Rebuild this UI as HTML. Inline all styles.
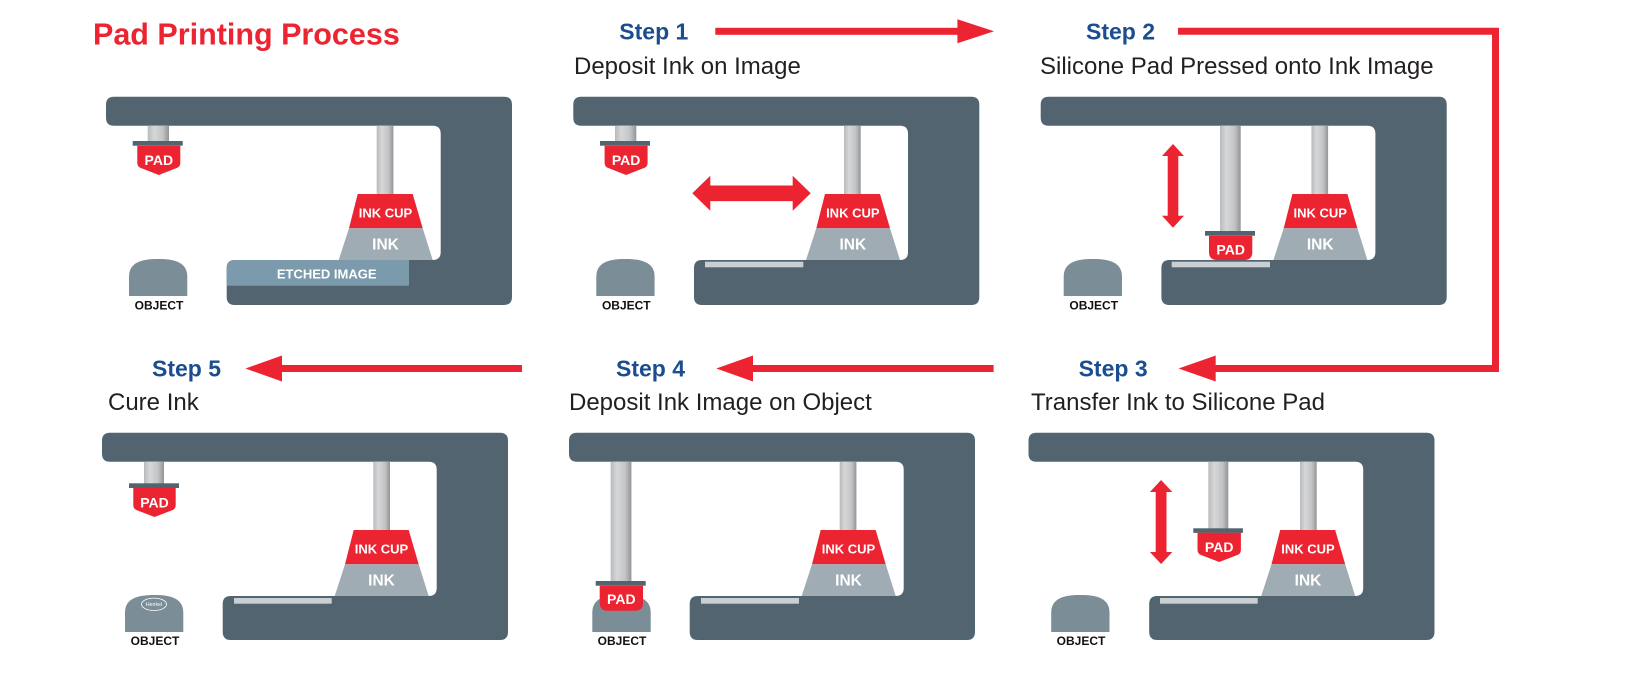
<!DOCTYPE html>
<html>
<head>
<meta charset="utf-8">
<style>
  html,body{margin:0;padding:0;background:#ffffff;}
  svg{display:block;}
  text{font-family:"Liberation Sans", Arial, sans-serif;}
</style>
</head>
<body>
<svg width="1628" height="676" viewBox="0 0 1628 676" xmlns="http://www.w3.org/2000/svg">
  <defs>
    <linearGradient id="stem" x1="0" y1="0" x2="1" y2="0">
      <stop offset="0" stop-color="#b9babc"/>
      <stop offset="0.3" stop-color="#d6d7d9"/>
      <stop offset="0.7" stop-color="#c3c4c6"/>
      <stop offset="1" stop-color="#939497"/>
    </linearGradient>
  </defs>

  <!-- Title -->
  <text x="93" y="44.3" font-size="30.5" font-weight="bold" fill="#ec2330">Pad Printing Process</text>

  <!-- Step headings row 1 -->
  <text x="619.3" y="39.3" font-size="23" font-weight="bold" fill="#1b4d8f">Step 1</text>
  <text x="574" y="74" font-size="24" fill="#231f20">Deposit Ink on Image</text>
  <text x="1086" y="39.3" font-size="23" font-weight="bold" fill="#1b4d8f">Step 2</text>
  <text x="1040" y="74" font-size="24" fill="#231f20">Silicone Pad Pressed onto Ink Image</text>

  <!-- Step headings row 2 -->
  <text x="152" y="376.5" font-size="23" font-weight="bold" fill="#1b4d8f">Step 5</text>
  <text x="108" y="410" font-size="24" fill="#231f20">Cure Ink</text>
  <text x="616" y="376.5" font-size="23" font-weight="bold" fill="#1b4d8f">Step 4</text>
  <text x="569" y="410" font-size="24" fill="#231f20">Deposit Ink Image on Object</text>
  <text x="1078.6" y="376.5" font-size="23" font-weight="bold" fill="#1b4d8f">Step 3</text>
  <text x="1031" y="410" font-size="24" fill="#231f20">Transfer Ink to Silicone Pad</text>

  <!-- Arrows between steps -->
  <rect x="715.3" y="27.8" width="243" height="7" fill="#ec2330"/>
  <polygon points="957.4,19.3 994,31.3 957.4,43.3" fill="#ec2330"/>

  <path d="M1178,31.3 H1495.5 V368.5 H1214" fill="none" stroke="#ec2330" stroke-width="7" stroke-linejoin="miter"/>
  <polygon points="1215.7,355.5 1178.6,368.5 1215.7,381.5" fill="#ec2330"/>

  <rect x="752" y="365" width="241.6" height="7" fill="#ec2330"/>
  <polygon points="753,355.5 716.3,368.5 753,381.5" fill="#ec2330"/>

  <rect x="281" y="365" width="241" height="7" fill="#ec2330"/>
  <polygon points="282,355.5 245.4,368.5 282,381.5" fill="#ec2330"/>

  <!-- ============ PANEL 1 (intro) ============ -->
  <g transform="translate(106,96.7)">
    <path d="M8,0 H398 Q406,0 406,8 V200.3 Q406,208.3 398,208.3 H128.7 Q120.7,208.3 120.7,200.3 V171.3 Q120.7,163.3 128.7,163.3 H326.7 Q334.7,163.3 334.7,155.3 V37 Q334.7,29 326.7,29 H8 Q0,29 0,21 V8 Q0,0 8,0 Z" fill="#52646f"/>
    <path d="M120.7,189 V171.3 Q120.7,163.3 128.7,163.3 H303 V189 Z" fill="#7b9aab"/>
    <text x="220.7" y="181.6" font-size="13" font-weight="bold" fill="#ffffff" text-anchor="middle">ETCHED IMAGE</text>
    <!-- cup -->
    <rect x="270.7" y="29" width="16.7" height="68.5" fill="url(#stem)"/>
    <polygon points="251.7,97.3 306.7,97.3 316.7,131.6 243,131.6" fill="#ec2330"/>
    <polygon points="243,131.6 316.7,131.6 326.7,163.3 232.7,163.3" fill="#a0acb4"/>
    <text x="279.5" y="120.6" font-size="13" font-weight="bold" fill="#ffffff" text-anchor="middle">INK CUP</text>
    <text x="279.5" y="152.6" font-size="15.5" font-weight="bold" fill="#ffffff" text-anchor="middle">INK</text>
    <!-- pad -->
    <rect x="41.7" y="29" width="21.3" height="15.5" fill="url(#stem)"/>
    <rect x="26.7" y="44.3" width="50" height="4.7" fill="#52646f"/>
    <path d="M31.3,49 H74.3 V66 Q74.3,69.6 71.3,71 L52.8,78.3 L34.3,71 Q31.3,69.6 31.3,66 Z" fill="#ec2330"/>
    <text x="52.8" y="68.3" font-size="14" font-weight="bold" fill="#ffffff" text-anchor="middle">PAD</text>
    <!-- object -->
    <path d="M23,199.3 V180 C23,166 35,162.3 52.2,162.3 C69.3,162.3 81.3,166 81.3,180 V199.3 Z" fill="#7b8d96"/>
    <text x="53" y="212.8" font-size="12" font-weight="bold" fill="#111111" text-anchor="middle">OBJECT</text>
  </g>

  <!-- ============ PANEL 2 (Step 1) ============ -->
  <g transform="translate(573.3,96.7)">
    <path d="M8,0 H398 Q406,0 406,8 V200.3 Q406,208.3 398,208.3 H128.7 Q120.7,208.3 120.7,200.3 V171.3 Q120.7,163.3 128.7,163.3 H326.7 Q334.7,163.3 334.7,155.3 V37 Q334.7,29 326.7,29 H8 Q0,29 0,21 V8 Q0,0 8,0 Z" fill="#52646f"/>
    <rect x="131.7" y="165" width="98.3" height="5.6" fill="#c9cfd2"/>
    <rect x="270.7" y="29" width="16.7" height="68.5" fill="url(#stem)"/>
    <polygon points="251.7,97.3 306.7,97.3 316.7,131.6 243,131.6" fill="#ec2330"/>
    <polygon points="243,131.6 316.7,131.6 326.7,163.3 232.7,163.3" fill="#a0acb4"/>
    <text x="279.5" y="120.6" font-size="13" font-weight="bold" fill="#ffffff" text-anchor="middle">INK CUP</text>
    <text x="279.5" y="152.6" font-size="15.5" font-weight="bold" fill="#ffffff" text-anchor="middle">INK</text>
    <rect x="41.7" y="29" width="21.3" height="15.5" fill="url(#stem)"/>
    <rect x="26.7" y="44.3" width="50" height="4.7" fill="#52646f"/>
    <path d="M31.3,49 H74.3 V66 Q74.3,69.6 71.3,71 L52.8,78.3 L34.3,71 Q31.3,69.6 31.3,66 Z" fill="#ec2330"/>
    <text x="52.8" y="68.3" font-size="14" font-weight="bold" fill="#ffffff" text-anchor="middle">PAD</text>
    <!-- horizontal double arrow -->
    <polygon points="119,96.6 137,79.1 137,88.8 219.4,88.8 219.4,79.1 237.4,96.6 219.4,114.1 219.4,104.4 137,104.4 137,114.1" fill="#ec2330"/>
    <path d="M23,199.3 V180 C23,166 35,162.3 52.2,162.3 C69.3,162.3 81.3,166 81.3,180 V199.3 Z" fill="#7b8d96"/>
    <text x="53" y="212.8" font-size="12" font-weight="bold" fill="#111111" text-anchor="middle">OBJECT</text>
  </g>

  <!-- ============ PANEL 3 (Step 2) ============ -->
  <g transform="translate(1040.7,96.7)">
    <path d="M8,0 H398 Q406,0 406,8 V200.3 Q406,208.3 398,208.3 H128.7 Q120.7,208.3 120.7,200.3 V171.3 Q120.7,163.3 128.7,163.3 H326.7 Q334.7,163.3 334.7,155.3 V37 Q334.7,29 326.7,29 H8 Q0,29 0,21 V8 Q0,0 8,0 Z" fill="#52646f"/>
    <rect x="131" y="165" width="98.3" height="5.6" fill="#c9cfd2"/>
    <rect x="270.7" y="29" width="16.7" height="68.5" fill="url(#stem)"/>
    <polygon points="251.7,97.3 306.7,97.3 316.7,131.6 243,131.6" fill="#ec2330"/>
    <polygon points="243,131.6 316.7,131.6 326.7,163.3 232.7,163.3" fill="#a0acb4"/>
    <text x="279.5" y="120.6" font-size="13" font-weight="bold" fill="#ffffff" text-anchor="middle">INK CUP</text>
    <text x="279.5" y="152.6" font-size="15.5" font-weight="bold" fill="#ffffff" text-anchor="middle">INK</text>
    <!-- pressed pad -->
    <rect x="179.3" y="29" width="20.7" height="105.5" fill="url(#stem)"/>
    <rect x="164.3" y="134.3" width="50" height="4.7" fill="#52646f"/>
    <path d="M168.3,139 H211.6 V155.3 Q211.6,163.3 203.6,163.3 H176.3 Q168.3,163.3 168.3,155.3 Z" fill="#ec2330"/>
    <text x="190" y="157.6" font-size="14" font-weight="bold" fill="#ffffff" text-anchor="middle">PAD</text>
    <!-- vertical double arrow -->
    <polygon points="132.3,47.3 143.3,59.3 137.6,59.3 137.6,119 143.3,119 132.3,131 121.3,119 127,119 127,59.3 121.3,59.3" fill="#ec2330"/>
    <path d="M23,199.3 V180 C23,166 35,162.3 52.2,162.3 C69.3,162.3 81.3,166 81.3,180 V199.3 Z" fill="#7b8d96"/>
    <text x="53" y="212.8" font-size="12" font-weight="bold" fill="#111111" text-anchor="middle">OBJECT</text>
  </g>

  <!-- ============ PANEL 5 (Step 5, bottom-left) ============ -->
  <g transform="translate(102,432.7)">
    <path d="M8,0 H398 Q406,0 406,8 V199.3 Q406,207.3 398,207.3 H128.7 Q120.7,207.3 120.7,199.3 V171.3 Q120.7,163.3 128.7,163.3 H326.7 Q334.7,163.3 334.7,155.3 V37 Q334.7,29 326.7,29 H8 Q0,29 0,21 V8 Q0,0 8,0 Z" fill="#52646f"/>
    <rect x="132" y="165.3" width="97.7" height="5.7" fill="#c9cfd2"/>
    <rect x="271.3" y="29" width="16.7" height="68.5" fill="url(#stem)"/>
    <polygon points="251.7,97.3 306.7,97.3 316.7,131.6 243,131.6" fill="#ec2330"/>
    <polygon points="243,131.6 316.7,131.6 326.7,163.3 232.7,163.3" fill="#a0acb4"/>
    <text x="279.5" y="120.6" font-size="13" font-weight="bold" fill="#ffffff" text-anchor="middle">INK CUP</text>
    <text x="279.5" y="152.6" font-size="15.5" font-weight="bold" fill="#ffffff" text-anchor="middle">INK</text>
    <rect x="42" y="29" width="20" height="21.8" fill="url(#stem)"/>
    <rect x="27" y="50.6" width="50" height="4.7" fill="#52646f"/>
    <path d="M31.3,55.3 H73.7 V72.3 Q73.7,75.9 70.7,77.3 L52.5,84.3 L34.3,77.3 Q31.3,75.9 31.3,72.3 Z" fill="#ec2330"/>
    <text x="52.5" y="74.6" font-size="14" font-weight="bold" fill="#ffffff" text-anchor="middle">PAD</text>
    <path d="M23,199.3 V180 C23,166 35,162.3 52.2,162.3 C69.3,162.3 81.3,166 81.3,180 V199.3 Z" fill="#7b8d96"/>
    <ellipse cx="52" cy="171.6" rx="12.5" ry="6.2" fill="none" stroke="#ffffff" stroke-width="0.8"/>
    <text x="52" y="173.4" font-size="5.2" fill="#ffffff" text-anchor="middle">Henkel</text>
    <text x="53" y="212.5" font-size="12" font-weight="bold" fill="#111111" text-anchor="middle">OBJECT</text>
  </g>

  <!-- ============ PANEL 4 (Step 4) ============ -->
  <g transform="translate(569,432.7)">
    <path d="M8,0 H398 Q406,0 406,8 V199.3 Q406,207.3 398,207.3 H128.7 Q120.7,207.3 120.7,199.3 V171.3 Q120.7,163.3 128.7,163.3 H326.7 Q334.7,163.3 334.7,155.3 V37 Q334.7,29 326.7,29 H8 Q0,29 0,21 V8 Q0,0 8,0 Z" fill="#52646f"/>
    <rect x="132" y="165.3" width="98" height="5.7" fill="#c9cfd2"/>
    <rect x="270.7" y="29" width="16.7" height="68.5" fill="url(#stem)"/>
    <polygon points="251.7,97.3 306.7,97.3 316.7,131.6 243,131.6" fill="#ec2330"/>
    <polygon points="243,131.6 316.7,131.6 326.7,163.3 232.7,163.3" fill="#a0acb4"/>
    <text x="279.5" y="120.6" font-size="13" font-weight="bold" fill="#ffffff" text-anchor="middle">INK CUP</text>
    <text x="279.5" y="152.6" font-size="15.5" font-weight="bold" fill="#ffffff" text-anchor="middle">INK</text>
    <!-- object under pad -->
    <path d="M23.3,199.3 V180 C23.3,166 35,162.3 52.5,162.3 C70,162.3 81.7,166 81.7,180 V199.3 Z" fill="#7b8d96"/>
    <rect x="41.7" y="29" width="20.7" height="119.5" fill="url(#stem)"/>
    <rect x="26.7" y="148.3" width="50" height="4.7" fill="#52646f"/>
    <path d="M30.7,153 H74 V170 Q74,178 66,178 H38.7 Q30.7,178 30.7,170 Z" fill="#ec2330"/>
    <text x="52.3" y="171.5" font-size="14" font-weight="bold" fill="#ffffff" text-anchor="middle">PAD</text>
    <text x="53" y="212.5" font-size="12" font-weight="bold" fill="#111111" text-anchor="middle">OBJECT</text>
  </g>

  <!-- ============ PANEL 6 (Step 3) ============ -->
  <g transform="translate(1028.5,432.7)">
    <path d="M8,0 H398 Q406,0 406,8 V199.3 Q406,207.3 398,207.3 H128.7 Q120.7,207.3 120.7,199.3 V171.3 Q120.7,163.3 128.7,163.3 H326.7 Q334.7,163.3 334.7,155.3 V37 Q334.7,29 326.7,29 H8 Q0,29 0,21 V8 Q0,0 8,0 Z" fill="#52646f"/>
    <rect x="131.5" y="165.3" width="97.7" height="5.7" fill="#c9cfd2"/>
    <rect x="271.5" y="29" width="16.7" height="68.5" fill="url(#stem)"/>
    <polygon points="251.7,97.3 306.7,97.3 316.7,131.6 243,131.6" fill="#ec2330"/>
    <polygon points="243,131.6 316.7,131.6 326.7,163.3 232.7,163.3" fill="#a0acb4"/>
    <text x="279.5" y="120.6" font-size="13" font-weight="bold" fill="#ffffff" text-anchor="middle">INK CUP</text>
    <text x="279.5" y="152.6" font-size="15.5" font-weight="bold" fill="#ffffff" text-anchor="middle">INK</text>
    <rect x="179.8" y="29" width="20" height="66.8" fill="url(#stem)"/>
    <rect x="164.8" y="95.6" width="49.6" height="4.6" fill="#52646f"/>
    <path d="M169,100 H212.4 V117 Q212.4,120.6 209.4,122 L190.7,129.3 L172,122 Q169,120.6 169,117 Z" fill="#ec2330"/>
    <text x="190.7" y="119.3" font-size="14" font-weight="bold" fill="#ffffff" text-anchor="middle">PAD</text>
    <polygon points="132.6,47.3 143.8,59.3 138,59.3 138,119.3 143.8,119.3 132.6,131.3 121.4,119.3 127.2,119.3 127.2,59.3 121.4,59.3" fill="#ec2330"/>
    <path d="M22.7,199.3 V180 C22.7,166 34.5,162.3 51.9,162.3 C69.2,162.3 81,166 81,180 V199.3 Z" fill="#7b8d96"/>
    <text x="52.5" y="212.5" font-size="12" font-weight="bold" fill="#111111" text-anchor="middle">OBJECT</text>
  </g>
</svg>
</body>
</html>
